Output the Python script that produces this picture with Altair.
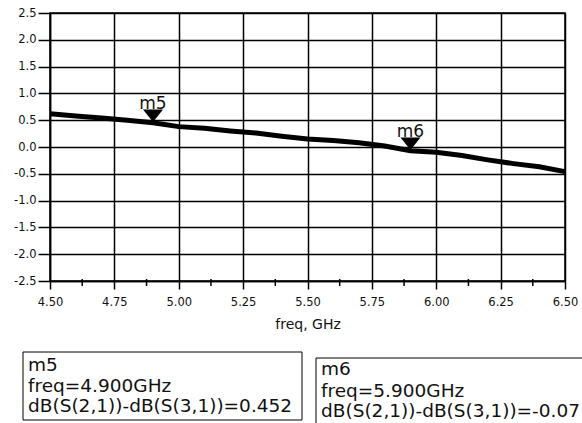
import altair as alt
import pandas as pd

# ---- data ----
freq = [4.5, 4.6, 4.7, 4.8, 4.9, 5.0, 5.1, 5.2, 5.3, 5.4, 5.5,
        5.6, 5.7, 5.8, 5.9, 6.0, 6.1, 6.2, 6.3, 6.4, 6.5]
diff_db = [0.62, 0.58, 0.54, 0.50, 0.452, 0.38, 0.35, 0.30, 0.26, 0.20, 0.15,
           0.12, 0.08, 0.02, -0.07, -0.10, -0.16, -0.24, -0.31, -0.37, -0.46]
marker_names = ["m5", "m6"]
marker_freq = [4.9, 5.9]
marker_val = [0.452, -0.07]
x_ticks = [4.5, 4.75, 5.0, 5.25, 5.5, 5.75, 6.0, 6.25, 6.5]
x_minor = [4.625, 4.875, 5.125, 5.375, 5.625, 5.875, 6.125, 6.375]
y_ticks = [-2.5, -2.0, -1.5, -1.0, -0.5, 0.0, 0.5, 1.0, 1.5, 2.0, 2.5]
box1_lines = ["m5", "freq=4.900GHz", "dB(S(2,1))-dB(S(3,1))=0.452"]
box2_lines = ["m6", "freq=5.900GHz", "dB(S(2,1))-dB(S(3,1))=-0.07"]

df = pd.DataFrame({"freq": freq, "val": diff_db})
mk = pd.DataFrame({"name": marker_names, "freq": marker_freq, "val": marker_val})
minor = pd.DataFrame({"freq": x_minor})
one = pd.DataFrame({"a": [0]})

FONT = "DejaVu Sans"
xscale = alt.Scale(domain=[4.5, 6.5], nice=False, zero=False)
yscale = alt.Scale(domain=[-2.5, 2.5], nice=False, zero=False)

xaxis = alt.Axis(values=x_ticks, labelExpr="format(datum.value, '.2f')",
                 title="freq, GHz", titlePadding=10, labelPadding=7, tickSize=8)
yaxis = alt.Axis(values=y_ticks,
                 labelExpr="replace(format(datum.value, '.1f'), '\u2212', '-')",
                 title=None, labelPadding=2, tickSize=12)

X = alt.X("freq:Q", scale=xscale, axis=xaxis)
Y = alt.Y("val:Q", scale=yscale, axis=yaxis)

line = alt.Chart(df).mark_line(color="black", strokeWidth=5).encode(x=X, y=Y)

minor_ticks = alt.Chart(minor).mark_rule(color="black", strokeWidth=1.5).encode(
    x=X, y=alt.value(266), y2=alt.value(273),
)

tri = alt.Chart(mk).mark_point(
    shape="M-1,-0.62L1,-0.62L0,0.62Z", filled=True, color="black",
    opacity=1, size=400, yOffset=-7).encode(x=X, y=Y)

mlabel = alt.Chart(mk).mark_text(
    font=FONT, fontSize=17, color="#111", baseline="alphabetic",
    align="center", dy=-14).encode(x=X, y=Y, text="name:N")

box1 = alt.Chart(one).mark_rect(fill="white", stroke="black", strokeWidth=1).encode(
    x=alt.value(-27), x2=alt.value(252), y=alt.value(339), y2=alt.value(407))
box2 = alt.Chart(one).mark_rect(fill="white", stroke="black", strokeWidth=1).encode(
    x=alt.value(266), x2=alt.value(580), y=alt.value(345), y2=alt.value(440))

texts = []
for lines, x0, ys in [(box1_lines, -22, [358, 379, 399]),
                      (box2_lines, 271, [362, 384, 404])]:
    for t, yy in zip(lines, ys):
        texts.append(
            alt.Chart(one).mark_text(font=FONT, fontSize=18.5, color="#111",
                                     align="left", baseline="alphabetic",
                                     text=t).encode(x=alt.value(x0), y=alt.value(yy))
        )

chart = alt.layer(line, minor_ticks, tri, mlabel, box1, box2, *texts).properties(
    width=515, height=268,
    autosize=alt.AutoSizeParams(type="none"),
    padding={"left": 50, "top": 13, "right": 17, "bottom": 142},
).configure(background="white").configure_axis(
    titleFont=FONT, titleFontSize=14, titleFontWeight="normal", titleColor="#111",
    labelFont=FONT, labelFontSize=11.5, labelColor="#111",
    tickColor="black", tickWidth=1.5,
    grid=True, gridColor="black", gridWidth=1.5, gridOpacity=1,
    domainColor="black", domainWidth=1.5, labelFlush=False, labelOverlap=False,
).configure_view(stroke="black", strokeWidth=1.5)

chart.save("out.html", embed_options={"renderer": "svg", "actions": False})
